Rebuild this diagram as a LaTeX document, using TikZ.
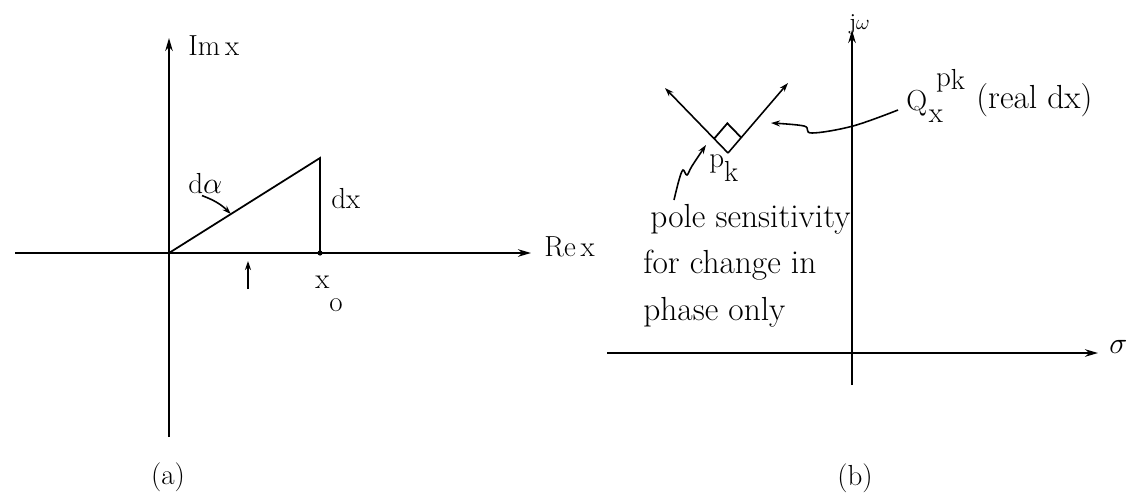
\documentclass[tikz,border=0pt]{standalone}
\usetikzlibrary{arrows.meta, positioning, calc}

\begin{document}
\begin{tikzpicture}[
    x=0.2mm, y=-0.2mm,
    axis/.style={line width=1.1pt, -{Stealth[length=2.6mm, width=1.5mm]}},
    edge/.style={line width=1pt},
    pointer/.style={line width=0.9pt, -{Stealth[length=1.8mm, width=1.2mm]}},
    lbl/.style={inner sep=0pt, font=\fontsize{16.5}{19}\selectfont},
    note/.style={inner sep=0pt, font=\fontsize{19}{26.2}\selectfont, align=left}
]
\useasboundingbox (0,0) rectangle (1137,497);

% (a) complex x plane
\coordinate (o) at (169,253);
\coordinate (imtop) at (169,38);
\coordinate (imbot) at (169,437);
\coordinate (releft) at (15,253);
\coordinate (reright) at (531,253);
\coordinate (apex) at (320,158);
\coordinate (foot) at (320,253);

\draw[axis] (imbot) -- (imtop);
\draw[axis] (releft) -- (reright);
\draw[edge] (o) -- (apex) -- (foot);
\fill (foot) circle (2.6);

\node[lbl, anchor=base west] (im) at (188,55) {Im\,x};
\node[lbl, anchor=base west] (re) at (544,256) {Re\,x};
\node[lbl, anchor=base west] (dx) at (331,208) {dx};
\node[lbl, anchor=base west] (dalpha) at (188,193) {d$\alpha$};
\node[lbl, anchor=base west] (xo) at (315,288) {x\raisebox{-0.8em}{o}};
\node[lbl] (capa) at (168,477) {(a)};

\coordinate (dalphatip) at ($(o)!0.41!(apex)$);
\draw[pointer] ($(dalpha.south west)+(14,2)$) to[bend left=12] (dalphatip);
\coordinate (tickfrom) at (248,289);
\coordinate (ticktip) at (248,261);
\draw[pointer] (tickfrom) -- (ticktip);

% (b) s plane
\coordinate (jwtop) at (852,30);
\coordinate (jwbot) at (852,385);
\coordinate (sigleft) at (607,353);
\coordinate (sigright) at (1098,353);

\draw[axis] (jwbot) -- (jwtop);
\draw[axis] (sigleft) -- (sigright);
\node[inner sep=0pt, anchor=base west, font=\fontsize{13}{15}\selectfont] (jw) at (849,29) {j$\omega$};
\node[lbl, anchor=base west] (sigma) at (1109,353) {$\sigma$};

\coordinate (pk) at (728,153);
\coordinate (larm) at (665,88);
\coordinate (rarm) at (788,83);
\draw[pointer] (pk) -- (larm);
\draw[pointer] (pk) -- (rarm);
\coordinate (sql) at ($(pk)!0.22!(larm)$);
\coordinate (sqr) at ($(pk)!0.22!(rarm)$);
\draw[edge] (sql) -- ($(sql)+(sqr)-(pk)$) -- (sqr);
\node[lbl, anchor=base west] (pklbl) at (709,167) {p\raisebox{-0.5em}{k}};

\node[lbl, anchor=base west] (qlbl) at (906,110)
    {Q\rlap{\kern1pt\raisebox{-0.42em}{x}}\kern5pt\raisebox{0.8em}{p\raisebox{-0.1em}{k}}};
\node[note, anchor=west] (real) at (976,100) {(real dx)};

\node[note, anchor=base west] (sens) at (643,320)
    {\hspace*{4pt}pole sensitivity\\for change in\\phase only};
\node[lbl] (capb) at (855,478) {(b)};

\coordinate (qfrom) at ($(qlbl.base west)+(-8,0)$);
\coordinate (qto) at (771,123);
\draw[pointer] plot[smooth, tension=0.6] coordinates {(qfrom) (853,126) (812,133) (804,126) (qto)};
\coordinate (pfrom) at (674,200);
\coordinate (ptip) at (706,145);
\draw[pointer] plot[smooth, tension=0.6] coordinates {(pfrom) (679,180) (683,170) (687,175) (692,166) (ptip)};
\end{tikzpicture}
\end{document}
